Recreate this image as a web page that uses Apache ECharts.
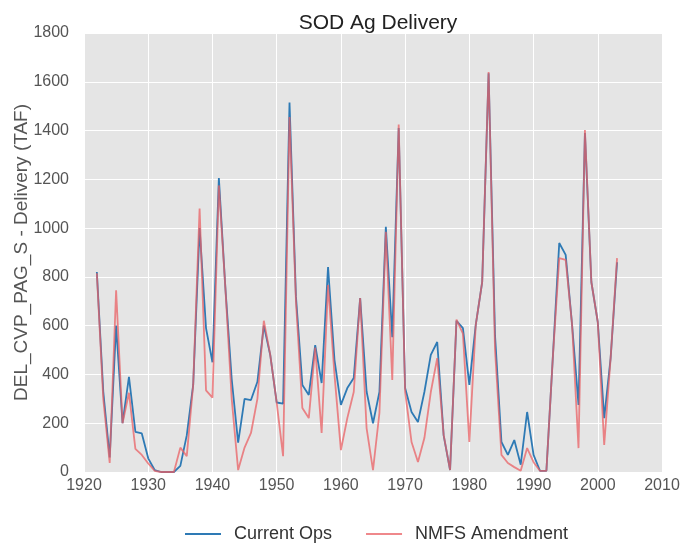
<!DOCTYPE html>
<html>
<head>
<meta charset="utf-8">
<script src="https://cdn.jsdelivr.net/npm/echarts@6/dist/echarts.min.js"></script>
<style>
html, body { margin: 0; padding: 0; background: #fff; }
#chart { width: 683px; height: 546px; }
</style>
</head>
<body>
<div id="chart"></div>
<script>
// years 1922..2003
const startYear = 1922
const xTicks = [1920, 1930, 1940, 1950, 1960, 1970, 1980, 1990, 2000, 2010]
const yTicks = [0, 200, 400, 600, 800, 1000, 1200, 1400, 1600, 1800]

const currentOps = [
  820, 330, 60, 600, 200, 390, 165, 158, 56, 8,
  0, 0, 0, 25, 150, 357, 1000, 590, 450, 1205,
  760, 380, 120, 300, 295, 370, 600, 480, 285, 280,
  1515, 720, 357, 316, 520, 365, 840, 460, 275, 344,
  385, 713, 330, 200, 328, 1005, 553, 1410, 344, 246,
  205, 328, 480, 533, 150, 8, 620, 590, 357, 603,
  779, 1635, 560, 123, 70, 131, 30, 246, 70, 5,
  5, 470, 939, 890, 603, 275, 1390, 779, 615, 221,
  467, 860
]

const nmfsAmendment = [
  815, 300, 37, 745, 200, 325, 95, 70, 35, 5,
  0, 0, 0, 100, 65, 357, 1080, 335, 305, 1175,
  760, 300, 8, 100, 160, 300, 620, 480, 285, 65,
  1455, 700, 262, 221, 510, 160, 767, 400, 90, 221,
  328, 713, 180, 8, 242, 985, 377, 1425, 330, 123,
  41, 139, 328, 467, 152, 8, 625, 567, 123, 603,
  779, 1640, 500, 70, 37, 20, 5, 98, 40, 5,
  5, 470, 877, 870, 603, 98, 1402, 779, 615, 111,
  467, 877
]

const toPairs = arr => arr.map((v, i) => [startYear + i, v])

const chart = echarts.init(document.getElementById('chart'))
const font = 'Liberation Sans'
const option = {
  backgroundColor: '#fff',
  animation: false,
  title: {
    text: 'SOD Ag Delivery',
    left: 373,
    textAlign: 'center',
    top: 8,
    textStyle: { fontFamily: font, fontSize: 21, fontWeight: 'normal', color: '#222' }
  },
  legend: {
    left: 180,
    top: 520,
    itemGap: 34,
    itemWidth: 36,
    itemHeight: 2,
    textStyle: { fontFamily: font, fontSize: 18, color: '#333', padding: [0, 0, 0, 8] },
    data: [
      { name: 'Current Ops', icon: 'rect' },
      { name: 'NMFS Amendment', icon: 'rect' }
    ]
  },
  grid: {
    left: 84,
    top: 33,
    width: 578,
    height: 439,
    outerBoundsMode: 'none',
    containLabel: false,
    show: true,
    backgroundColor: '#e5e5e5',
    borderWidth: 0
  },
  xAxis: {
    type: 'value',
    min: xTicks[0],
    max: xTicks[xTicks.length - 1],
    interval: 10,
    axisLine: { show: false },
    axisTick: { show: false },
    axisLabel: { fontFamily: font, fontSize: 16, color: '#555', margin: 6, formatter: v => String(v) },
    splitLine: { lineStyle: { color: '#fff', width: 1 } }
  },
  yAxis: {
    type: 'value',
    min: yTicks[0],
    max: yTicks[yTicks.length - 1],
    interval: 200,
    name: 'DEL_CVP_PAG_S - Delivery (TAF)',
    nameLocation: 'middle',
    nameGap: 53,
    nameMoveOverlap: false,
    nameTextStyle: { fontFamily: font, fontSize: 19, color: '#555' },
    axisLine: { show: false },
    axisTick: { show: false },
    axisLabel: { fontFamily: font, fontSize: 16, color: '#555', margin: 15, formatter: v => String(v) },
    splitLine: { lineStyle: { color: '#fff', width: 1 } }
  },
  series: [
    {
      name: 'Current Ops',
      type: 'line',
      showSymbol: false,
      color: '#2e7ab5',
      lineStyle: { width: 1.8 },
      data: toPairs(currentOps)
    },
    {
      name: 'NMFS Amendment',
      type: 'line',
      showSymbol: false,
      color: 'rgba(234,96,100,0.75)',
      lineStyle: { width: 1.8 },
      data: toPairs(nmfsAmendment)
    }
  ]
}
chart.setOption(option)
</script>
</body>
</html>
